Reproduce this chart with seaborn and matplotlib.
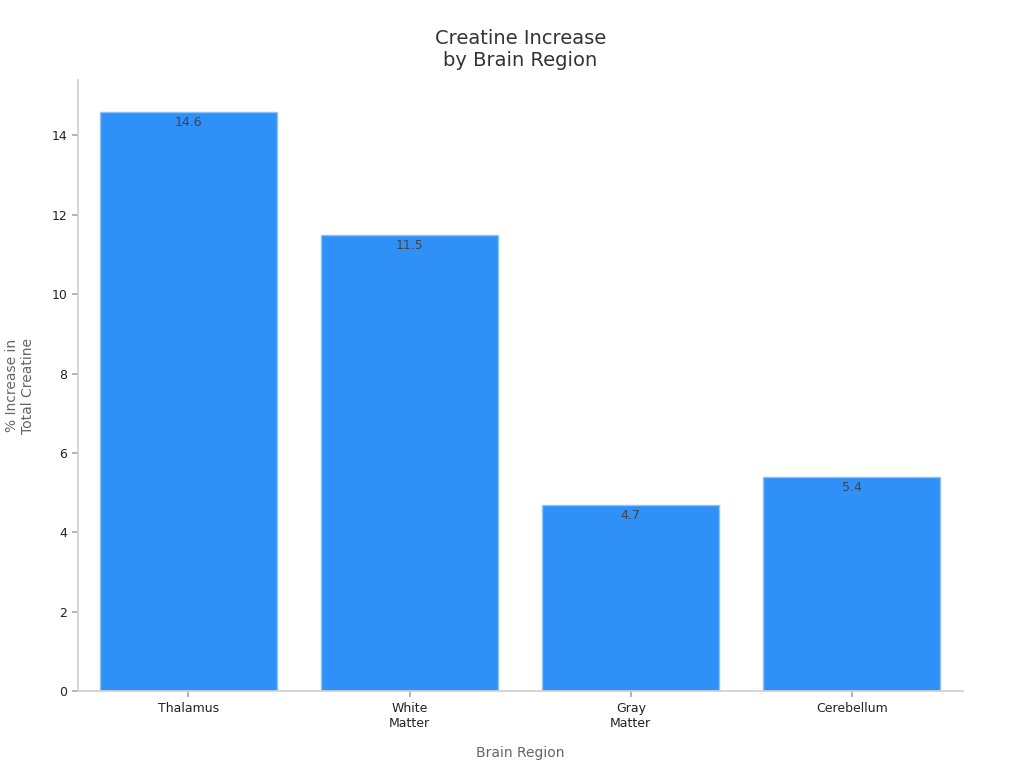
import matplotlib
matplotlib.use("Agg")
import matplotlib.pyplot as plt
import seaborn as sns
import pandas as pd

regions = ["Thalamus", "White\nMatter", "Gray\nMatter", "Cerebellum"]
increase = [14.6, 11.5, 4.7, 5.4]

df = pd.DataFrame({"region": regions, "increase": increase})

sns.set_theme(style="ticks")
plt.rcParams["font.family"] = ["DejaVu Sans"]

fig = plt.figure(figsize=(10.24, 7.68), dpi=100)
ax = fig.add_axes([0.076, 0.100, 0.864, 0.796])

sns.barplot(data=df, x="region", y="increase", color="#2F91F7", saturation=1,
            width=0.8, edgecolor="#8EC3F5", linewidth=1, ax=ax)

for i, v in enumerate(increase):
    ax.text(i, v - 0.1, f"{v}", ha="center", va="top", fontsize=9, color="#444444")

ax.set_xlim(-0.5, 3.5)
ax.set_ylim(0, 15.4)
ax.set_yticks(range(0, 15, 2))
ax.set_title("Creatine Increase\nby Brain Region", fontsize=14, color="#333333", pad=10)
ax.set_xlabel("Brain Region", fontsize=10, color="#666666", labelpad=12)
ax.set_ylabel("% Increase in\nTotal Creatine", fontsize=10, color="#666666", labelpad=12)
ax.tick_params(axis="both", labelsize=9, colors="#222222", length=4)
ax.tick_params(axis="both", color="#aaaaaa")
for s in ["top", "right"]:
    ax.spines[s].set_visible(False)
for s in ["left", "bottom"]:
    ax.spines[s].set_color("#d0d0d0")

fig.savefig("out.png", dpi=100)
